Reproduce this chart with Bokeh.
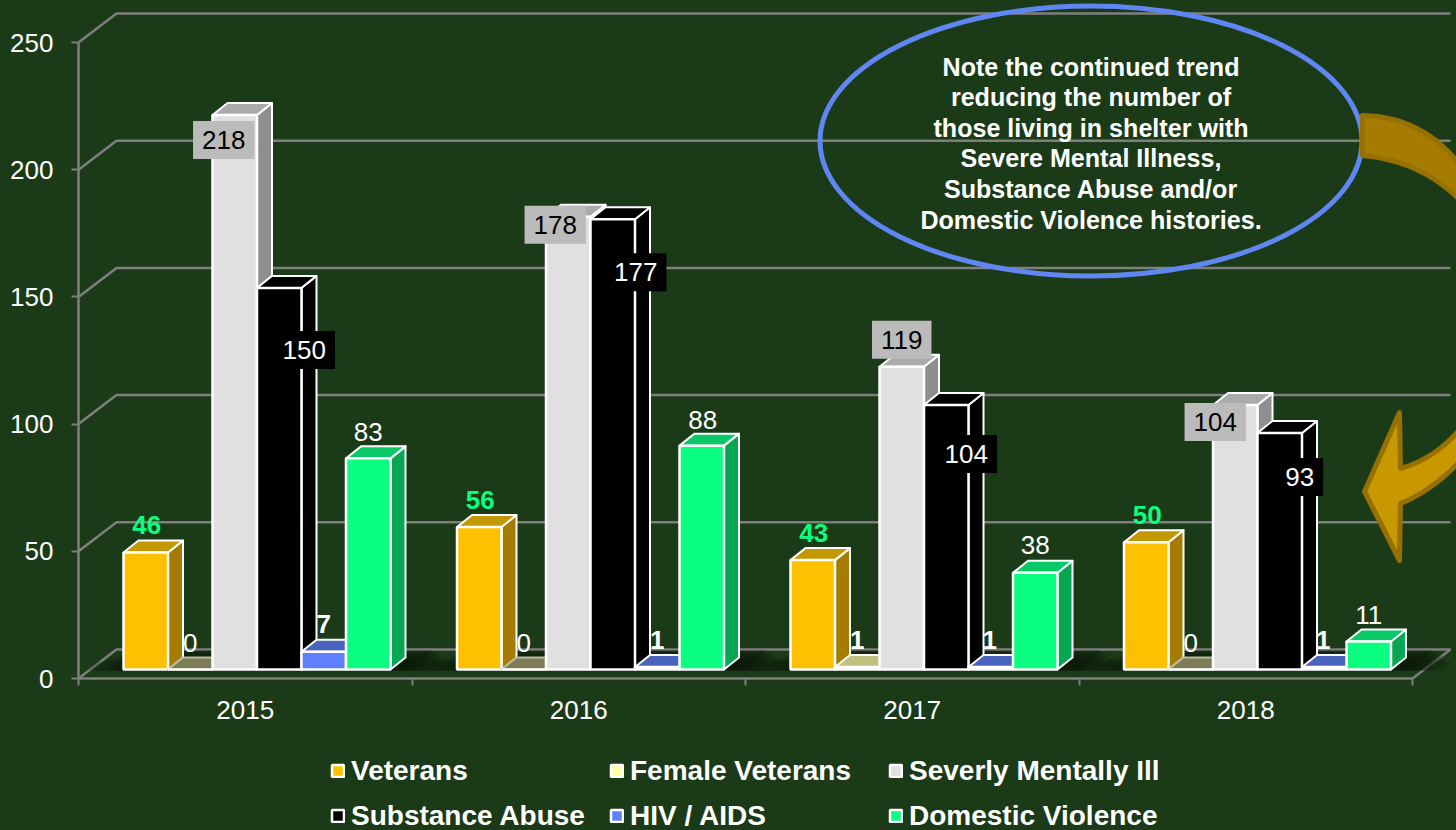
from bokeh.plotting import figure
from bokeh.embed import file_html
from bokeh.resources import INLINE
from bokeh.models import FixedTicker, Legend, LegendItem, ColumnDataSource
from bokeh.core.properties import value, field

years = ["2015", "2016", "2017", "2018"]
veterans = [46, 56, 43, 50]
female_veterans = [0, 0, 1, 0]
severely_mentally_ill = [218, 178, 119, 104]
substance_abuse = [150, 177, 104, 93]
hiv_aids = [7, 1, 1, 1]
domestic_violence = [83, 88, 38, 11]
y_ticks = [0, 50, 100, 150, 200, 250]

note_lines = ["Note the continued trend", "reducing the number of",
              "those living in shelter with", "Severe Mental Illness,",
              "Substance Abuse and/or", "Domestic Violence histories."]

names = ["Veterans", "Female Veterans", "Severly Mentally Ill",
         "Substance Abuse", "HIV / AIDS", "Domestic Violence"]
series = [veterans, female_veterans, severely_mentally_ill,
          substance_abuse, hiv_aids, domestic_violence]
front = ["#FFC000", "#FFFFA6", "#E0E0E0", "#000000", "#5F7FFF", "#0AFF80"]
side = ["#A67C00", "#A6A66C", "#8F8F8F", "#000000", "#3E52A6", "#06A653"]
top = ["#C49800", "#C2C080", "#ABABAB", "#000000", "#4A63BD", "#08C868"]

# label offsets from bar top centre, in screen pixels
label_dx = [[1, 1, 1, 1], [0, 0, 0, 0], [-11, -13, 0, -20],
            [25, 23, 20, 20], [0, 0, -1, -1], [0, 1, 0, 0]]
label_dy = [[-27, -27, -27, -27], [-27, -27, -27, -27], [25, 8, -27, 17],
            [62, 53, 49, 44], [-28, -27, -27, -27], [-26, -26, -28, -27]]
label_color = ["#0AFF80", "#FFFFFF", "#000000", "#FFFFFF", "#FFFFFF", "#FFFFFF"]
label_style = [["bold"] * 4, ["normal", "normal", "bold", "normal"], ["normal"] * 4,
               ["normal"] * 4, ["bold"] * 4, ["normal"] * 4]

BG = "#1B3A17"
GRID = "#7F7F7F"
FONT = "Liberation Sans"

W, H = 1456, 830
PX_X = 333.5      # px per category
PX_Y = 2.544      # px per value unit
X0, Y0 = 78, 678  # where the axes cross on the page

p = figure(width=W, height=H, output_backend="svg", toolbar_location=None,
           x_range=(-X0 / PX_X, (W - X0) / PX_X), y_range=((Y0 - H) / PX_Y, Y0 / PX_Y),
           min_border_left=0, min_border_bottom=0, min_border_right=0, min_border_top=0,
           background_fill_color=BG, border_fill_color=BG, outline_line_color=None,
           styles={"background-color": BG})
p.grid.visible = False


def px(x, y):
    """page pixel -> data, for the decorations that are not chart values"""
    return (x - X0) / PX_X, (Y0 - y) / PX_Y


def curve(a, c, b, n=14):
    """points of a quadratic curve, in page pixels"""
    out = []
    for k in range(n + 1):
        t = k / n
        out.append(((1 - t) ** 2 * a[0] + 2 * t * (1 - t) * c[0] + t ** 2 * b[0],
                    (1 - t) ** 2 * a[1] + 2 * t * (1 - t) * c[1] + t ** 2 * b[1]))
    return out


# walls and floor
wall_dx, wall_dy = 38 / PX_X, 29 / PX_Y
wx, wy = [], []
for t in y_ticks[1:]:
    wx.append([0, wall_dx, 4 + wall_dx])
    wy.append([t, t + wall_dy, t + wall_dy])
wx.append([0, wall_dx, 4 + wall_dx, 4])
wy.append([0, wall_dy, wall_dy, 0])
p.multi_line(wx, wy, line_color=GRID, line_width=2.5)

# geometry of the bars
bar_w = 44.5 / PX_X
start = 45 / PX_X
base = 9 / PX_Y
dep_x, dep_y = 15 / PX_X, 12 / PX_Y

# soft shadow on the floor
for i in range(4):
    for grow, rise, alpha in ((36, 8, 0.22), (28, 11, 0.22), (20, 14, 0.25), (12, 17, 0.3), (4, 19, 0.35)):
        g = grow / PX_X
        x0 = i + start - g
        x1 = i + start + 6 * bar_w + g
        y0 = base - 1 / PX_Y
        y1 = base + rise / PX_Y
        sk = rise * 1.25 / PX_X
        p.patch([x0, x1 + 15 / PX_X, x1 + 15 / PX_X + sk, x0 + sk], [y0, y0, y1, y1],
                fill_color="#0B1508", fill_alpha=alpha, line_color=None)

# bars, series by series
renderers = []
for s, vals in enumerate(series):
    for i, v in enumerate(vals):
        xl = i + start + s * bar_w
        xr = xl + bar_w
        yt = base + v
        dim = v == 0
        p.patch([xr, xr + dep_x, xr + dep_x, xr], [base, base + dep_y, yt + dep_y, yt],
                fill_color=side[s], line_color="#FFFFFF", line_width=2, line_join="round")
        p.patch([xl, xl + dep_x, xr + dep_x, xr], [yt, yt + dep_y, yt + dep_y, yt],
                fill_color="#7D7D55" if dim else top[s],
                line_color="#B9B9A0" if dim else "#FFFFFF",
                line_width=2, line_join="round")
    src = ColumnDataSource(dict(x=[i + start + (s + 0.5) * bar_w for i in range(4)],
                                top=[base + v for v in vals]))
    r = p.vbar(x="x", width=bar_w, bottom=base, top="top", source=src,
               fill_color=front[s], line_color="#FFFFFF", line_width=2.5)
    renderers.append(r)

# value labels
for s, vals in enumerate(series):
    src = ColumnDataSource(dict(
        x=[i + start + (s + 0.5) * bar_w for i in range(4)],
        y=[base + v for v in vals],
        t=[str(v) for v in vals],
        dx=label_dx[s], dy=label_dy[s], style=label_style[s]))
    kw = {}
    if s == 2:
        kw = dict(background_fill_color="#BBBBBB", padding=(9, 10))
    if s == 3:
        kw = dict(background_fill_color="#000000", padding=(9, 10))
    p.text("x", "y", text="t", source=src, x_offset="dx", y_offset="dy",
           text_align="center", text_baseline="middle", text_color=label_color[s],
           text_font=value(FONT), text_font_size="26px", text_font_style=field("style"), **kw)

# note ellipse
cx, cy = px(1090.5, 140.5)
p.ellipse(cx, cy, width=542 / PX_X, height=270 / PX_Y, fill_color=None,
          line_color="#5F86F2", line_width=5)
lx = [cx] * len(note_lines)
ly = [px(0, 66 + k * 30.6)[1] for k in range(len(note_lines))]
p.text(lx, ly, text=note_lines, text_align="center", text_baseline="middle",
       text_color="#FFFFFF", text_font=value(FONT), text_font_size="25.1px", text_font_style="bold")

# curved arrow: the upper piece and the head
up = curve((1362, 115), (1422, 116), (1460, 165)) + curve((1460, 200), (1420, 160), (1362, 155))
xs, ys = zip(*[px(*q) for q in up])
p.patch(list(xs), list(ys), fill_color="#A67C00", line_color="#967000", line_width=5, line_join="round")
head = ([(1364, 491), (1399, 412)] + curve((1400, 468), (1435, 458), (1460, 428))
        + curve((1460, 460), (1432, 490), (1400, 503)) + [(1399, 560)])
xs, ys = zip(*[px(*q) for q in head])
p.patch(list(xs), list(ys), fill_color="#C89800", line_color="#967000", line_width=5, line_join="round")

# axes, set inside the frame at the zero lines
ya = p.yaxis[0]
ya.fixed_location = 0
ya.ticker = FixedTicker(ticks=y_ticks)
ya.bounds = (0, 250)
ya.axis_line_color = GRID
ya.axis_line_width = 2.5
ya.major_tick_line_color = GRID
ya.major_tick_line_width = 2
ya.major_tick_in = 0
ya.major_tick_out = 7
ya.minor_tick_line_color = None
ya.major_label_text_color = "#FFFFFF"
ya.major_label_text_font = FONT
ya.major_label_text_font_size = "26px"
ya.major_label_standoff = 18

xa = p.xaxis[0]
xa.fixed_location = 0
xa.ticker = FixedTicker(ticks=[k + 0.5 for k in range(4)], minor_ticks=[0, 1, 2, 3, 4])
xa.major_label_overrides = {k + 0.5: years[k] for k in range(4)}
xa.bounds = (0, 4)
xa.axis_line_color = GRID
xa.axis_line_width = 2.5
xa.major_tick_line_color = None
xa.major_tick_in = 0
xa.major_tick_out = 0
xa.minor_tick_line_color = GRID
xa.minor_tick_line_width = 2
xa.minor_tick_in = 0
xa.minor_tick_out = 7
xa.major_label_text_color = "#FFFFFF"
xa.major_label_text_font = FONT
xa.major_label_text_font_size = "26px"
xa.major_label_standoff = 15

# legend: the items fill column by column, so this order reads row by row
order = [0, 3, 1, 4, 2, 5]
legend = Legend(items=[LegendItem(label=names[k], renderers=[renderers[k]]) for k in order],
                ncols=3, location=(330, -4),
                background_fill_alpha=0, border_line_color=None,
                label_text_color="#FFFFFF", label_text_font=FONT, label_text_font_size="28px",
                label_text_font_style="bold", glyph_width=15, glyph_height=15,
                label_width=250, label_height=37, label_standoff=6, spacing=8, margin=0, padding=0)
p.add_layout(legend, "center")

open("out.html", "w").write(file_html(p, INLINE))
